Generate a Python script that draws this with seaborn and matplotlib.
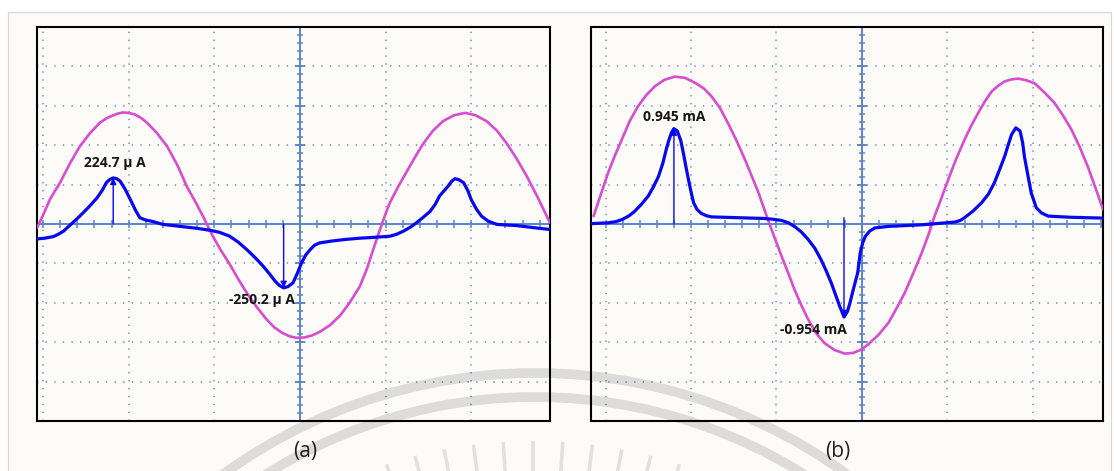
import numpy as np
import pandas as pd
import matplotlib
matplotlib.use("Agg")
import matplotlib.pyplot as plt
import seaborn as sns
from matplotlib.patches import Rectangle, Circle

# ---------------- data (oscilloscope screen divisions) ----------------
# panel (a): magenta reference sine, blue current trace
a_ref_x = [-3.07, -3.00, -2.92, -2.86, -2.80, -2.69, -2.57, -2.45, -2.33, -2.26, -2.19, -2.13,
           -2.07, -2.00, -1.93, -1.86, -1.79, -1.67, -1.55, -1.43, -1.32, -1.22, -1.13, -1.02,
           -0.92, -0.82, -0.72, -0.62, -0.50, -0.39, -0.30, -0.21, -0.12, -0.04, 0.05, 0.14,
           0.23, 0.35, 0.47, 0.58, 0.70, 0.78, 0.86, 0.93, 1.00, 1.05, 1.15, 1.25, 1.35, 1.44,
           1.55, 1.67, 1.80, 1.93, 2.05, 2.18, 2.30, 2.41, 2.53, 2.65, 2.78, 2.92]
a_ref_y = [-0.10, 0.22, 0.62, 0.84, 1.05, 1.52, 1.97, 2.31, 2.58, 2.68, 2.75, 2.80,
           2.83, 2.82, 2.78, 2.70, 2.58, 2.31, 1.97, 1.49, 0.95, 0.56, 0.19, -0.30,
           -0.68, -1.02, -1.40, -1.75, -2.12, -2.42, -2.62, -2.76, -2.85, -2.89, -2.88, -2.83,
           -2.74, -2.57, -2.32, -2.00, -1.58, -1.15, -0.62, -0.17, 0.26, 0.54, 0.96, 1.34, 1.72, 2.04,
           2.36, 2.61, 2.76, 2.82, 2.76, 2.61, 2.37, 2.06, 1.66, 1.21, 0.66, 0.03]
a_cur_x = [-3.07, -2.98, -2.88, -2.82, -2.76, -2.67, -2.57, -2.47, -2.37, -2.31, -2.26, -2.22,
           -2.18, -2.14, -2.10, -2.04, -1.98, -1.92, -1.87, -1.80, -1.73, -1.60, -1.48, -1.36,
           -1.20, -1.05, -0.94, -0.82, -0.72, -0.62, -0.52, -0.43, -0.35, -0.29, -0.24, -0.19,
           -0.14, -0.08, -0.03, 0.02, 0.07, 0.12, 0.17, 0.23, 0.38, 0.54, 0.70, 0.86, 1.05, 1.13,
           1.21, 1.29, 1.36, 1.44, 1.52, 1.58, 1.63, 1.73, 1.77, 1.81, 1.86, 1.91, 1.96, 2.00,
           2.06, 2.12, 2.20, 2.30, 2.53, 2.76, 2.92]
a_cur_y = [-0.38, -0.36, -0.32, -0.26, -0.18, 0.00, 0.20, 0.42, 0.66, 0.85, 1.05, 1.13,
           1.17, 1.15, 1.09, 0.88, 0.62, 0.35, 0.16, 0.10, 0.07, -0.01, -0.04, -0.07,
           -0.11, -0.16, -0.21, -0.31, -0.46, -0.65, -0.86, -1.07, -1.28, -1.45, -1.56, -1.62,
           -1.59, -1.49, -1.25, -0.98, -0.78, -0.65, -0.54, -0.48, -0.43, -0.39, -0.36, -0.34, -0.31, -0.26,
           -0.18, -0.08, 0.03, 0.17, 0.32, 0.50, 0.71, 0.96, 1.08, 1.15, 1.12, 1.05, 0.85, 0.62,
           0.38, 0.20, 0.07, -0.01, -0.04, -0.10, -0.14]
a_mark_x = [-2.18, -0.19]
a_mark_y = [1.17, -1.62]
a_mark_labels = ["224.7 \u00b5 A", "-250.2 \u00b5 A"]

# panel (b)
b_ref_x = [-3.14, -3.05, -2.97, -2.89, -2.81, -2.72, -2.62, -2.52, -2.42, -2.31, -2.19, -2.07,
           -1.95, -1.85, -1.76, -1.66, -1.57, -1.47, -1.37, -1.29, -1.21, -1.10, -1.02, -0.94,
           -0.86, -0.79, -0.71, -0.63, -0.54, -0.44, -0.32, -0.20, -0.10, -0.01, 0.07, 0.19,
           0.31, 0.40, 0.50, 0.60, 0.70, 0.78, 0.85, 0.93, 1.01, 1.10, 1.20, 1.28, 1.36, 1.44,
           1.52, 1.60, 1.67, 1.75, 1.83, 1.92, 2.02, 2.13, 2.25, 2.35, 2.45, 2.55, 2.64, 2.73, 2.82]
b_ref_y = [0.20, 0.78, 1.30, 1.74, 2.14, 2.60, 2.99, 3.28, 3.50, 3.66, 3.74, 3.71,
           3.58, 3.44, 3.24, 2.94, 2.57, 2.13, 1.64, 1.22, 0.79, 0.11, -0.36, -0.82,
           -1.26, -1.66, -2.06, -2.42, -2.76, -3.02, -3.20, -3.29, -3.27, -3.19, -3.06, -2.82,
           -2.51, -2.16, -1.75, -1.25, -0.73, -0.26, 0.20, 0.66, 1.13, 1.64, 2.14, 2.50, 2.82, 3.12,
           3.37, 3.52, 3.62, 3.67, 3.69, 3.65, 3.57, 3.35, 3.08, 2.76, 2.40, 1.94, 1.47, 0.93, 0.37]
b_cur_x = [-3.16, -2.97, -2.88, -2.81, -2.73, -2.66, -2.58, -2.50, -2.44, -2.38, -2.33, -2.29,
           -2.26, -2.23, -2.20, -2.16, -2.12, -2.09, -2.06, -2.03, -2.00, -1.97, -1.93, -1.88,
           -1.82, -1.76, -1.45, -1.14, -1.04, -0.94, -0.86, -0.79, -0.71, -0.63, -0.55, -0.48,
           -0.42, -0.36, -0.31, -0.26, -0.21, -0.17, -0.14, -0.10, -0.05, -0.02, 0.01, 0.04,
           0.09, 0.15, 0.31, 0.70, 1.09, 1.15, 1.20, 1.30, 1.40, 1.48, 1.55, 1.61, 1.67, 1.71,
           1.75, 1.80, 1.85, 1.88, 1.90, 1.94, 1.98, 2.04, 2.10, 2.18, 2.45, 2.82]
b_cur_y = [0.01, 0.03, 0.06, 0.11, 0.20, 0.32, 0.50, 0.71, 0.94, 1.21, 1.54, 1.89,
           2.12, 2.31, 2.42, 2.36, 2.12, 1.81, 1.46, 1.13, 0.82, 0.54, 0.37, 0.27,
           0.21, 0.18, 0.16, 0.14, 0.12, 0.09, 0.03, -0.06, -0.20, -0.39, -0.62, -0.90,
           -1.18, -1.49, -1.79, -2.09, -2.36, -2.22, -2.00, -1.65, -1.24, -0.73, -0.47, -0.31,
           -0.18, -0.10, -0.06, -0.02, 0.05, 0.09, 0.16, 0.33, 0.54, 0.76, 1.05, 1.38, 1.72, 2.00,
           2.27, 2.44, 2.36, 2.06, 1.72, 1.25, 0.79, 0.41, 0.28, 0.20, 0.17, 0.15]
b_mark_x = [-2.20, -0.21]
b_mark_y = [2.42, -2.36]
b_mark_labels = ["0.945 mA", "-0.954 mA"]

panel_names = ["(a)", "(b)"]

# ---------------- style ----------------
sns.set_theme(style="white")
plt.rcParams["font.family"] = ["Open Sans", "DejaVu Sans"]
plt.rcParams["lines.scale_dashes"] = False
plt.rcParams["lines.solid_joinstyle"] = "round"
plt.rcParams["lines.solid_capstyle"] = "round"

MAGENTA = "#d94ccf"
BLUE = "#0808f0"
AXC = "#5a84cc"
GRIDC = "#7d9fd8"
PANEL_BG = "#fcfbf7"

W, H = 1114, 471
fig = plt.figure(figsize=(W / 100, H / 100), dpi=100)
fig.patch.set_facecolor("white")

# background sheet
bg = fig.add_axes([0, 0, 1, 1], zorder=-5)
bg.set_xlim(0, W); bg.set_ylim(H, 0); bg.axis("off")
bg.add_patch(Rectangle((7.5, 11.5), 1103, 470, fc=PANEL_BG, ec="#d6d6d6", lw=0.9))


def px_rect(l, t, r, b):
    return [l / W, 1 - b / H, (r - l) / W, (b - t) / H]


def draw_panel(ax, xlim, rx, ry, cx, cy, mx, my, mlabels, text_pos, arrow_starts):
    ax.set_facecolor(PANEL_BG)
    ax.set_xlim(*xlim)
    ax.set_ylim(-5, 5)
    # dotted graticule
    for gy in [-4, -3, -2, -1, 1, 2, 3, 4]:
        ax.axhline(gy, color=GRIDC, lw=1.3, linestyle=(0, (1.0, 5.2)), zorder=1)
    for gx in [-3, -2, -1, 1, 2]:
        ax.axvline(gx, color=GRIDC, lw=1.3, linestyle=(0, (1.0, 4.7)), zorder=1)
    # centre axes with ticks
    ax.axhline(0, color=AXC, lw=1.4, zorder=2)
    ax.axvline(0, color=AXC, lw=1.4, zorder=2)
    xt = np.arange(-3.2, 3.01, 0.2)
    ax.vlines(xt, -0.09, 0.09, color=AXC, lw=1.1, zorder=2)
    yt = np.arange(-5, 5.01, 0.2)
    ax.hlines(yt, -0.035, 0.035, color=AXC, lw=1.1, zorder=2)
    ax.hlines(np.arange(-5, 6, 1), -0.06, 0.06, color=AXC, lw=1.3, zorder=2)
    # traces
    sns.lineplot(x=rx, y=ry, ax=ax, color=MAGENTA, lw=1.9, sort=False, estimator=None,
                 legend=False, zorder=3)
    sns.lineplot(x=cx, y=cy, ax=ax, color=BLUE, lw=2.3, sort=False, estimator=None,
                 legend=False, zorder=4)
    # markers
    for x, y, lab, (tx, ty), y0 in zip(mx, my, mlabels, text_pos, arrow_starts):
        ax.annotate("", xy=(x, y), xytext=(x, y0),
                    arrowprops=dict(arrowstyle="-|>", color=BLUE, lw=1.0,
                                    mutation_scale=9, shrinkA=0, shrinkB=0), zorder=5)
        ax.text(tx, ty, lab, ha="center", va="center", fontsize=10, fontweight="bold",
                color="#151515", zorder=6)
    ax.set_xticks([]); ax.set_yticks([])
    ax.set_xlabel(""); ax.set_ylabel("")
    for s in ax.spines.values():
        s.set_visible(True)
        s.set_color("black")
        s.set_linewidth(1.5)


axa = fig.add_axes(px_rect(37, 27, 550, 421))
draw_panel(axa, (-3.07, 2.92), a_ref_x, a_ref_y, a_cur_x, a_cur_y,
           a_mark_x, a_mark_y, a_mark_labels, [(-2.16, 1.56), (-0.44, -1.93)], [0, 0])

axb = fig.add_axes(px_rect(591, 27, 1103, 421))
draw_panel(axb, (-3.17, 2.82), b_ref_x, b_ref_y, b_cur_x, b_cur_y,
           b_mark_x, b_mark_y, b_mark_labels, [(-2.20, 2.72), (-0.57, -2.68)], [0, 0.16])

fig.text(305 / W, 1 - 452 / H, panel_names[0], ha="center", va="center", fontsize=15, color="#222222")
fig.text(838 / W, 1 - 452 / H, panel_names[1], ha="center", va="center", fontsize=15, color="#222222")

# faint watermark on top
ov = fig.add_axes([0, 0, 1, 1], zorder=10)
ov.set_xlim(0, W); ov.set_ylim(H, 0); ov.axis("off")
ov.patch.set_alpha(0)
ov.add_patch(Circle((535, 904), 531, fill=False, ec="black", lw=7, alpha=0.12))
ov.add_patch(Circle((535, 904), 507, fill=False, ec="black", lw=7, alpha=0.12))
cx0, cy0 = 533, 915
for ang in np.deg2rad(np.arange(72, 108.1, 3.6)):
    ov.plot([cx0 + 440 * np.cos(ang), cx0 + 474 * np.cos(ang)],
            [cy0 - 440 * np.sin(ang), cy0 - 474 * np.sin(ang)],
            color="black", lw=2.6, alpha=0.10, solid_capstyle="butt")

fig.savefig("out.png", dpi=100, facecolor="white")
